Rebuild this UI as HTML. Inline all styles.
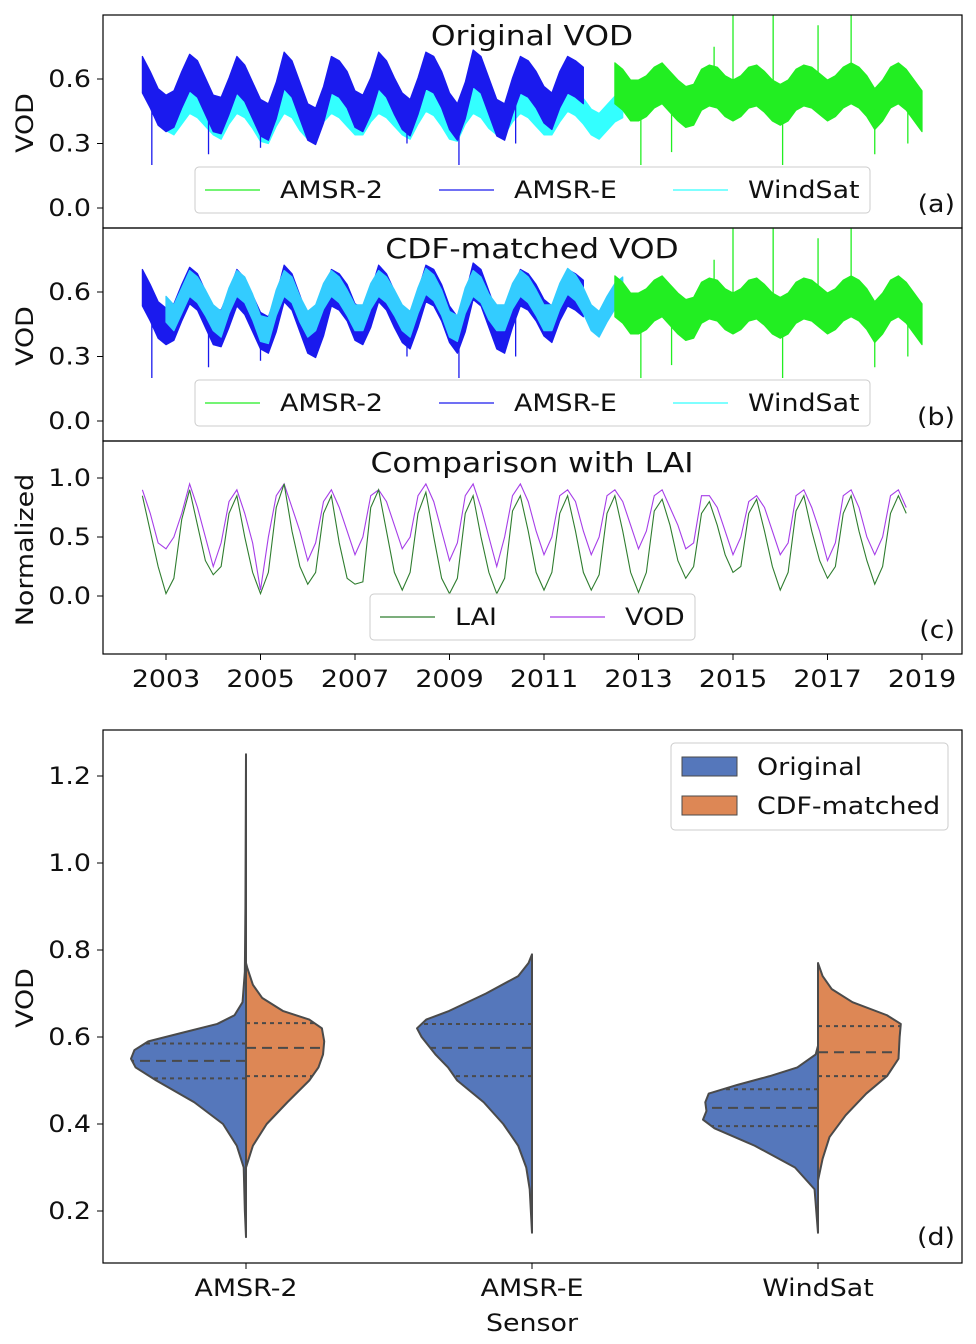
<!DOCTYPE html>
<html><head><meta charset="utf-8">
<style>
html,body{margin:0;padding:0;background:#fff;}
svg{display:block;font-family:"DejaVu Sans","Liberation Sans",sans-serif;}
</style></head>
<body>
<svg id="fig" width="976" height="1344" viewBox="0 0 976 1344" xmlns="http://www.w3.org/2000/svg">
<defs>
<clipPath id="clipA"><rect x="103" y="15" width="859" height="213"/></clipPath>
<clipPath id="clipB"><rect x="103" y="228" width="859" height="213"/></clipPath>
<clipPath id="clipC"><rect x="103" y="441" width="859" height="213"/></clipPath>
</defs>
<g id="layer"></g>
</svg>
<script>
// ---------- time-series data (6 samples per year) ----------
const amsrEStart = 2002.5;
const amsrEOrig = [0.62,0.55,0.47,0.44,0.46,0.55, 0.63,0.60,0.52,0.44,0.43,0.52, 0.62,0.58,0.50,0.42,0.40,0.50, 0.64,0.60,0.50,0.40,0.38,0.48, 0.62,0.60,0.55,0.46,0.44,0.52, 0.64,0.60,0.52,0.45,0.42,0.52, 0.64,0.62,0.55,0.45,0.40,0.50, 0.65,0.62,0.52,0.42,0.40,0.52, 0.62,0.60,0.55,0.48,0.45,0.55, 0.62,0.60,0.57];
const windsatStart = 2003.0;
const windsatOrig = [0.42,0.40,0.45,0.50,0.48,0.44, 0.40,0.38,0.45,0.50,0.48,0.43, 0.37,0.36,0.44,0.50,0.48,0.42, 0.38,0.40,0.46,0.50,0.48,0.44, 0.40,0.40,0.46,0.50,0.48,0.44, 0.40,0.38,0.45,0.51,0.49,0.44, 0.38,0.37,0.45,0.50,0.48,0.43, 0.40,0.40,0.46,0.50,0.48,0.44, 0.40,0.40,0.46,0.51,0.49,0.45, 0.40,0.38,0.42,0.46,0.48];
const windsatCdf = [0.52,0.48,0.56,0.64,0.61,0.55, 0.48,0.45,0.56,0.64,0.61,0.53, 0.43,0.42,0.55,0.64,0.61,0.52, 0.45,0.48,0.58,0.64,0.61,0.55, 0.48,0.48,0.58,0.64,0.61,0.55, 0.48,0.45,0.56,0.65,0.62,0.55, 0.45,0.43,0.56,0.64,0.61,0.53, 0.48,0.48,0.58,0.64,0.61,0.55, 0.48,0.48,0.58,0.65,0.62,0.56, 0.48,0.45,0.52,0.58,0.61];
const amsr2Start = 2012.5;
const amsr2Vals = [0.58,0.55,0.50,0.50,0.52,0.56, 0.58,0.54,0.50,0.47,0.48,0.55, 0.57,0.56,0.52,0.50,0.52,0.56, 0.57,0.54,0.50,0.48,0.50,0.55, 0.57,0.56,0.53,0.50,0.52,0.56, 0.58,0.56,0.52,0.46,0.50,0.56, 0.58,0.55,0.50,0.45];
const amsr2SpikeTimes = [2013.05,2013.7,2014.6,2015.0,2015.85,2016.05,2016.8,2017.5,2018.0,2018.7];
const amsr2SpikeVals  = [0.20,0.26,0.75,0.95,0.90,0.20,0.85,0.95,0.25,0.30];
const amsrESpikeTimes = [2002.7,2003.9,2005.0,2008.1,2009.2,2010.4];
const amsrESpikeVals  = [0.20,0.25,0.28,0.30,0.20,0.30];
const noiseAmsrE = 0.085, noiseWindsat = 0.06, noiseAmsr2 = 0.095;
// panel c (normalized, 6 samples per year)
const cStart = 2002.5;
const laiVals = [0.85,0.55,0.25,0.02,0.15,0.65, 0.90,0.60,0.30,0.18,0.25,0.70, 0.85,0.50,0.20,0.02,0.20,0.75, 0.95,0.55,0.25,0.10,0.20,0.70, 0.85,0.45,0.15,0.10,0.12,0.75, 0.90,0.55,0.20,0.05,0.20,0.70, 0.88,0.50,0.15,0.02,0.15,0.70, 0.85,0.50,0.20,0.02,0.15,0.72, 0.85,0.55,0.20,0.05,0.20,0.70, 0.85,0.55,0.20,0.05,0.18,0.70, 0.85,0.55,0.20,0.03,0.20,0.72, 0.82,0.60,0.30,0.15,0.25,0.70, 0.80,0.60,0.35,0.20,0.25,0.70, 0.82,0.55,0.25,0.05,0.20,0.72, 0.85,0.55,0.30,0.15,0.25,0.70, 0.85,0.55,0.30,0.10,0.25,0.70, 0.85,0.70];
const vodVals = [0.90,0.70,0.45,0.40,0.50,0.70, 0.95,0.75,0.50,0.25,0.45,0.80, 0.90,0.70,0.45,0.05,0.50,0.85, 0.95,0.75,0.55,0.30,0.45,0.80, 0.90,0.75,0.55,0.35,0.50,0.85, 0.90,0.80,0.60,0.40,0.50,0.85, 0.95,0.80,0.55,0.30,0.45,0.85, 0.95,0.75,0.50,0.25,0.50,0.85, 0.95,0.80,0.55,0.35,0.50,0.85, 0.90,0.80,0.55,0.35,0.50,0.85, 0.90,0.80,0.60,0.40,0.55,0.85, 0.90,0.75,0.60,0.40,0.45,0.85, 0.85,0.75,0.55,0.35,0.50,0.80, 0.85,0.75,0.55,0.35,0.45,0.85, 0.90,0.75,0.55,0.30,0.45,0.85, 0.90,0.75,0.50,0.35,0.50,0.85, 0.90,0.75];
// ---------- ticks ----------
const yearTicks = [2003,2005,2007,2009,2011,2013,2015,2017,2019];
const vodTicksTS = [0.0,0.3,0.6];
const normTicks = [0.0,0.5,1.0];
const violinTicks = [0.2,0.4,0.6,0.8,1.0,1.2];
const sensors = ["AMSR-2","AMSR-E","WindSat"];
// ---------- violin data: [vod, relative density] ----------
const amsr2OrigProfile = [[0.14,0],[0.2,0.01],[0.3,0.02],[0.35,0.08],[0.4,0.2],[0.45,0.45],[0.5,0.78],[0.53,0.96],[0.55,1.0],[0.57,0.97],[0.59,0.85],[0.61,0.55],[0.63,0.25],[0.65,0.1],[0.68,0.03],[0.75,0.01],[0.9,0.005],[1.25,0]];
const amsr2CdfProfile = [[0.3,0],[0.35,0.06],[0.4,0.18],[0.45,0.36],[0.5,0.55],[0.53,0.63],[0.56,0.67],[0.59,0.68],[0.62,0.66],[0.64,0.55],[0.66,0.32],[0.69,0.14],[0.72,0.06],[0.76,0.01],[0.77,0]];
const amsrEOrigProfile = [[0.15,0],[0.25,0.02],[0.3,0.05],[0.35,0.12],[0.4,0.25],[0.45,0.42],[0.5,0.65],[0.53,0.73],[0.56,0.84],[0.6,0.96],[0.62,1.0],[0.64,0.92],[0.66,0.72],[0.7,0.4],[0.74,0.12],[0.77,0.03],[0.79,0]];
const windsatOrigProfile = [[0.15,0],[0.25,0.03],[0.3,0.2],[0.35,0.55],[0.39,0.9],[0.41,1.0],[0.43,0.97],[0.45,0.98],[0.47,0.95],[0.49,0.7],[0.51,0.42],[0.53,0.18],[0.56,0.02],[0.58,0]];
const windsatCdfProfile = [[0.27,0],[0.32,0.04],[0.37,0.1],[0.42,0.24],[0.47,0.42],[0.51,0.6],[0.55,0.7],[0.6,0.71],[0.63,0.72],[0.65,0.6],[0.68,0.3],[0.71,0.12],[0.74,0.04],[0.77,0]];
const quartOrig = [[0.505,0.545,0.585],[0.51,0.575,0.63],[0.395,0.437,0.48]];
const quartCdf  = [[0.51,0.575,0.632],null,[0.51,0.565,0.625]];

const NS='http://www.w3.org/2000/svg';
const layer=document.getElementById('layer');
const SX=1.12;
function el(tag,attrs,parent,text){const e=document.createElementNS(NS,tag);for(const k in attrs)e.setAttribute(k,attrs[k]);if(text!==undefined)e.textContent=text;(parent||layer).appendChild(e);return e;}
function txt(x,y,str,size,anchor,parent,rot){
  const tr='translate('+x+','+y+')'+(rot?' rotate(-90)':'')+' scale('+SX+',1)';
  return el('text',{x:0,y:0,transform:tr,'text-anchor':anchor||'start','font-size':size,fill:'#111'},parent,str);
}
const xT = t => 166 + (t-2003)*47.25;
const yA = v => 208 - v*215;
const yB = v => 421 - v*215;
const yC = v => 596 - v*118;
const yD = v => 1211 - (v-0.2)*435;

function band(vals,start,noise,yf,color,clip,name){
  const g=el('g',{'clip-path':'url(#'+clip+')'});
  
  
  let up=[],dn=[];
  vals.forEach((v,i)=>{const t=start+i/6;up.push(xT(t)+','+yf(v+noise));dn.unshift(xT(t)+','+yf(v-noise));});
  el('polygon',{points:up.concat(dn).join(' '),fill:color,stroke:color,'stroke-width':1.2,'stroke-linejoin':'round'},g);
  return g;
}
function spikes(times,vals,seriesVals,start,yf,color,clip,name){
  const g=el('g',{'clip-path':'url(#'+clip+')'});
  
  
  times.forEach((t,i)=>{const k=Math.min(seriesVals.length-1,Math.max(0,Math.round((t-start)*6)));
    el('line',{x1:xT(t),x2:xT(t),y1:yf(seriesVals[k]),y2:yf(vals[i]),stroke:color,'stroke-width':1.3},g);});
}
function frame(y0,y1,name){const r=el('rect',{x:103,y:y0,width:859,height:y1-y0,fill:'none',stroke:'#000','stroke-width':1.2});}
function yticks(ticks,yf,fmt){ticks.forEach(v=>{const y=yf(v);el('line',{x1:97,x2:103,y1:y,y2:y,stroke:'#000'});const t=txt(91,y+8,fmt(v),24,'end');});}
function ylabel(s,cy){const t=txt(33,cy,s,24,'middle',null,true);}
function title(s,y){const t=txt(532,y,s,28,'middle');}
function tag(s,y){const t=txt(955,y,s,24,'end');}
function legend(x,y,w,items){const g=el('g',{});
  el('rect',{x:x,y:y,width:w,height:46,rx:4,fill:'#fff','fill-opacity':0.85,stroke:'#ccc'},g);
  items.forEach(it=>{el('line',{x1:it[0],x2:it[0]+55,y1:y+23,y2:y+23,stroke:it[2],'stroke-width':1.3},g);
    const t=txt(it[0]+75,y+31,it[1],24,'start',g);});}

// Panel a
band(windsatOrig,windsatStart,noiseWindsat,yA,'#33ffff','clipA','windsat-original-series');
band(amsrEOrig,amsrEStart,noiseAmsrE,yA,'#1a1aee','clipA','amsre-original-series');
spikes(amsrESpikeTimes,amsrESpikeVals,amsrEOrig,amsrEStart,yA,'#1a1aee','clipA','amsre-spikes-a');
band(amsr2Vals,amsr2Start,noiseAmsr2,yA,'#22ee22','clipA','amsr2-original-series');
spikes(amsr2SpikeTimes,amsr2SpikeVals,amsr2Vals,amsr2Start,yA,'#22ee22','clipA','amsr2-spikes-a');
frame(15,228,'panel-a-frame');
yticks(vodTicksTS,yA,v=>v.toFixed(1));ylabel('VOD',123);
title('Original VOD',45);
legend(195,167,675,[[205,'AMSR-2','#22ee22'],[439,'AMSR-E','#1a1aee'],[673,'WindSat','#33ffff']]);
tag('(a)',212);
// Panel b
band(amsrEOrig,amsrEStart,noiseAmsrE,yB,'#1a1aee','clipB','amsre-cdf-series');
spikes(amsrESpikeTimes,amsrESpikeVals,amsrEOrig,amsrEStart,yB,'#1a1aee','clipB','amsre-spikes-b');
band(windsatCdf,windsatStart,noiseWindsat,yB,'#33ccff','clipB','windsat-cdf-series');
band(amsr2Vals,amsr2Start,noiseAmsr2,yB,'#22ee22','clipB','amsr2-cdf-series');
spikes(amsr2SpikeTimes,amsr2SpikeVals,amsr2Vals,amsr2Start,yB,'#22ee22','clipB','amsr2-spikes-b');
frame(228,441,'panel-b-frame');
yticks(vodTicksTS,yB,v=>v.toFixed(1));ylabel('VOD',336);
title('CDF-matched VOD',258);
legend(195,380,675,[[205,'AMSR-2','#22ee22'],[439,'AMSR-E','#1a1aee'],[673,'WindSat','#33ffff']]);
tag('(b)',425);
// Panel c
function line(vals,start,yf,color,name){const p=vals.map((v,i)=>xT(start+i/6)+','+yf(v)).join(' ');
  const e=el('polyline',{points:p,fill:'none',stroke:color,'stroke-width':1.1,'clip-path':'url(#clipC)'});}
line(vodVals,cStart,yC,'#a63ee8','vod-normalized-line');
line(laiVals,cStart,yC,'#2f7d2f','lai-line');
frame(441,654,'panel-c-frame');
yticks(normTicks,yC,v=>v.toFixed(1));ylabel('Normalized',550);
title('Comparison with LAI',472);
legend(370,594,325,[[380,'LAI','#2f7d2f'],[550,'VOD','#a63ee8']]);
tag('(c)',638);
yearTicks.forEach(yr=>{const x=xT(yr);el('line',{x1:x,x2:x,y1:654,y2:660,stroke:'#000'});const t=txt(x,687,String(yr),24,'middle');});

// Panel d violins
const cxs=[246,532,818];const W=115;
function half(cx,prof,side,color,name){
  const pts=prof.map(p=>(cx+side*p[1]*W)+','+yD(p[0]));
  const e=el('polygon',{points:pts.join(' ')+' '+cx+','+yD(prof[prof.length-1][0])+' '+cx+','+yD(prof[0][0]),fill:color,stroke:'#4a4a4a','stroke-width':2,'stroke-linejoin':'round'});
  
}
function widthAt(prof,v){for(let i=0;i<prof.length-1;i++){if(v>=prof[i][0]&&v<=prof[i+1][0]){const f=(v-prof[i][0])/(prof[i+1][0]-prof[i][0]);return (prof[i][1]+f*(prof[i+1][1]-prof[i][1]))*W;}}return 0;}
function quart(cx,prof,q,side){q.forEach((v,i)=>{const w=widthAt(prof,v);el('line',{x1:cx,x2:cx+side*w,y1:yD(v),y2:yD(v),stroke:'#4a4a4a','stroke-width':2,'stroke-dasharray':i==1?'10,6':'4,4'});});}
const origProfiles=[amsr2OrigProfile,amsrEOrigProfile,windsatOrigProfile];
const cdfProfiles=[amsr2CdfProfile,null,windsatCdfProfile];
sensors.forEach((s,i)=>{
  half(cxs[i],origProfiles[i],-1,'#5577bb','violin-original-'+s.toLowerCase());
  quart(cxs[i],origProfiles[i],quartOrig[i],-1);
  if(cdfProfiles[i]){half(cxs[i],cdfProfiles[i],1,'#dd8755','violin-cdf-'+s.toLowerCase());quart(cxs[i],cdfProfiles[i],quartCdf[i],1);}
  el('line',{x1:cxs[i],x2:cxs[i],y1:1263,y2:1269,stroke:'#000'});
  const t=txt(cxs[i],1296,s,24,'middle');
});
const fr=el('rect',{x:103,y:730,width:859,height:533,fill:'none',stroke:'#000','stroke-width':1.2});
yticks(violinTicks,yD,v=>v.toFixed(1));ylabel('VOD',998);
const xl=txt(532,1331,'Sensor',24,'middle');
tag('(d)',1245);
const lg=el('g',{});
el('rect',{x:671,y:743,width:277,height:87,rx:4,fill:'#fff',stroke:'#ccc'},lg);
el('rect',{x:682,y:757,width:55,height:19,fill:'#5577bb',stroke:'#4a4a4a'},lg);
el('rect',{x:682,y:796,width:55,height:19,fill:'#dd8755',stroke:'#4a4a4a'},lg);
const l1=txt(757,775,'Original',24,'start',lg);
const l2=txt(757,814,'CDF-matched',24,'start',lg);
</script>
</body></html>
